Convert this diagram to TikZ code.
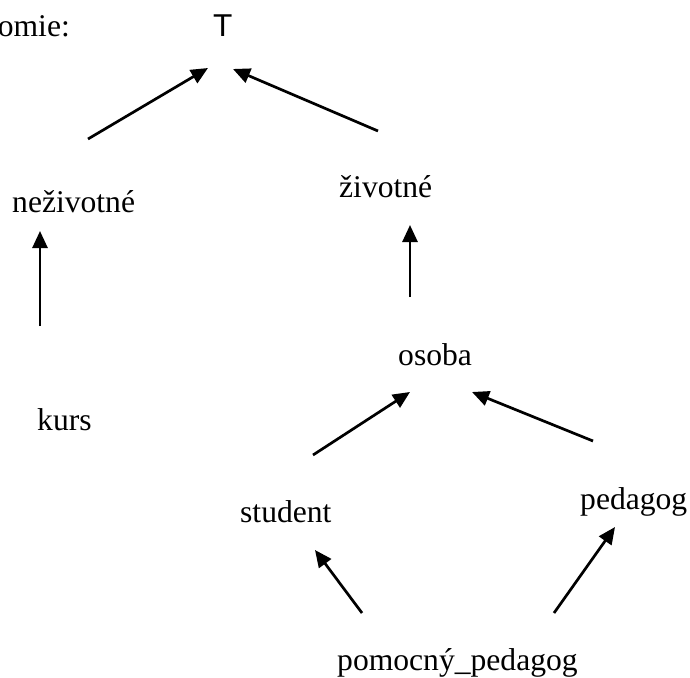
\documentclass[tikz,border=0pt]{standalone}
\usepackage{fontspec}
\setmainfont{Liberation Serif}
\newfontfamily\sansT{Liberation Sans}
\usetikzlibrary{arrows.meta}
\tikzset{
  lbl/.style={inner sep=0pt, anchor=base west, font=\fontsize{31.6pt}{38pt}\selectfont},
  arr/.style={line width=2.7pt, -{Triangle[length=17pt,width=15pt]}}
}
\begin{document}
\begin{tikzpicture}[x=1pt,y=-1pt]
\useasboundingbox (0,0) rectangle (690,677);
% labels
\node[lbl, anchor=base east] (tax) at (70,37) {omie:};
\node[lbl, font=\fontsize{31.6pt}{38pt}\sansT] (T) at (213,37) {T};
\node[lbl] (nez) at (12,212) {neživotné};
\node[lbl] (ziv) at (339,197) {životné};
\node[lbl] (oso) at (398,365) {osoba};
\node[lbl] (kurs) at (37,430) {kurs};
\node[lbl] (stu) at (240,522) {student};
\node[lbl] (ped) at (580,509) {pedagog};
\node[lbl] (pom) at (337,670) {pomocný\_pedagog};
% connector end points
\coordinate (a1s) at (88,139);  \coordinate (a1e) at (208,68);
\coordinate (a2s) at (378,131); \coordinate (a2e) at (233,69);
\coordinate (a3s) at (40,326);  \coordinate (a3e) at (40,231);
\coordinate (a4s) at (410,297); \coordinate (a4e) at (410,225);
\coordinate (a5s) at (313,455); \coordinate (a5e) at (410,392);
\coordinate (a6s) at (593,441); \coordinate (a6e) at (472,392);
\coordinate (a7s) at (362,613); \coordinate (a7e) at (315,550);
\coordinate (a8s) at (554,613); \coordinate (a8e) at (615,527);
% connectors
\draw[arr] (a1s) -- (a1e);
\draw[arr] (a2s) -- (a2e);
\draw[arr] (a3s) -- (a3e);
\draw[arr] (a4s) -- (a4e);
\draw[arr] (a5s) -- (a5e);
\draw[arr] (a6s) -- (a6e);
\draw[arr] (a7s) -- (a7e);
\draw[arr] (a8s) -- (a8e);
\end{tikzpicture}
\end{document}
